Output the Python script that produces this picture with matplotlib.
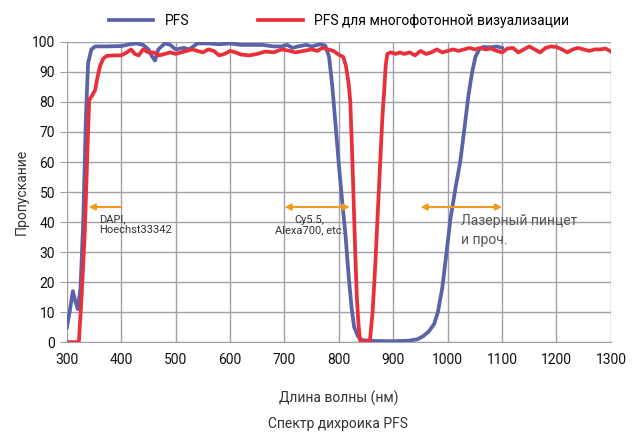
import matplotlib
matplotlib.use("Agg")
import matplotlib.pyplot as plt

BLUE = '#5a62a8'
RED = '#e8303a'
ORANGE = '#f39a1e'
GRID = '#9fa3a9'
TEXT = '#333333'

plt.rcParams['font.family'] = ['Roboto', 'DejaVu Sans']

# PFS (blue) curve
pfs_nm = [300, 305, 311, 315, 320, 325, 330, 335, 339, 345, 352, 370, 400, 415,
          428, 440, 450, 457, 462, 468, 480, 490, 500, 515, 525, 540, 560, 580,
          600, 620, 640, 660, 680, 695, 705, 715, 725, 740, 750, 765, 775, 782,
          788, 795, 800, 806, 812, 818, 823, 828, 835, 842, 860, 900, 930, 945,
          955, 965, 975, 982, 990, 998, 1005, 1015, 1023, 1030, 1038, 1045,
          1051, 1058, 1065, 1080, 1090, 1100]
pfs_val = [5, 10, 17, 14, 11, 18, 40, 75, 93, 97.5, 98.5, 98.5, 98.6, 99.2,
           99.5, 99, 97.5, 95, 93.8, 97.5, 99.5, 99, 97.5, 98, 97.5, 99.5, 99.5,
           99.2, 99.5, 99, 99, 99, 98.5, 98.5, 99, 98, 98.5, 99, 98.5, 99.2,
           98.8, 95, 85, 70, 59, 47, 36, 22, 12, 5, 2, 0.7, 0.4, 0.3, 0.5, 1,
           2, 3.5, 6, 10, 18, 30, 41, 52, 60, 70, 82, 90,
           95, 97.5, 98.3, 98.2, 98.5, 98]

# PFS for multiphoton imaging (red) curve
mp_nm = [300, 315, 322, 327, 333, 338, 341, 346, 352, 356, 361, 367, 373, 385,
         400, 410, 418, 425, 432, 440, 450, 460, 470, 480, 490, 500, 510, 520,
         530, 540, 550, 560, 570, 580, 590, 600, 610, 620, 635, 650, 665, 680,
         695, 710, 720, 735, 750, 760, 770, 780, 790, 800, 808, 813, 818, 821,
         824, 827, 830, 833, 836, 839, 850, 857, 862, 867, 872, 876, 880, 883,
         886, 889, 895, 905, 912, 920, 930, 940, 950, 960, 970, 980, 990, 1000,
         1010, 1020, 1030, 1040, 1050, 1060, 1070, 1080, 1090, 1100, 1110,
         1120, 1130, 1140, 1150, 1160, 1170, 1180, 1190, 1200, 1210, 1220,
         1230, 1240, 1250, 1260, 1270, 1280, 1290, 1300]
mp_val = [0, 0, 0, 15, 37, 65, 80.7, 82, 84, 88, 92, 94.5, 95.3, 95.5,
          95.5, 96.5, 97.5, 96, 95.5, 97.5, 96.5, 96.5, 95.5, 96, 96.5, 96, 96.5, 97,
          97.5, 97, 96.5, 97.5, 97, 95.5, 96, 97, 96.5, 95.8, 95.5, 96, 96.8, 96.5,
          97.5, 97, 96.5, 97, 97.5, 97, 98, 97.5, 97, 95.7, 95, 92, 86, 80,
          65, 48, 30, 15, 6, 0.5, 0.3, 0.5, 10, 26, 45, 60, 75, 83,
          92, 96, 96.5, 96, 96.5, 96, 96.5, 95.5, 97, 96, 96.5, 97.5, 96.5, 97,
          97.5, 97, 97.5, 98, 97.5, 98, 97.5, 97.8, 97, 96.5, 97.8,
          98, 96.5, 97.5, 98.5, 97.5, 96.5, 98, 98.5, 98.3, 97.5, 96.5,
          97.5, 98, 97.5, 97, 97.5, 97.5, 97.8, 96.8]

x_ticks = list(range(300, 1301, 100))
y_ticks = list(range(0, 101, 10))

fig = plt.figure(figsize=(6.37, 4.32), dpi=100)
ax = fig.add_axes([0.105, 0.208, 0.854, 0.695])

ax.plot(pfs_nm, pfs_val, color=BLUE, lw=2.7, solid_joinstyle='round', label='PFS', zorder=3)
ax.plot(mp_nm, mp_val, color=RED, lw=2.7, solid_joinstyle='round',
        label='PFS для многофотонной визуализации', zorder=4)

ax.set_xlim(300, 1300)
ax.set_ylim(0, 100)
ax.set_xticks(x_ticks)
ax.set_yticks(y_ticks)
ax.grid(True, color=GRID, lw=1.0)
for s in ['top', 'right', 'left']:
    ax.spines[s].set_visible(False)
ax.spines['bottom'].set_color(GRID)
ax.tick_params(axis='y', length=5, color=GRID, labelsize=10, labelcolor='#111111')
ax.tick_params(axis='x', length=0, pad=8, labelsize=10, labelcolor='#111111')
ax.set_xlabel('Длина волны (нм)', fontsize=10, color=TEXT, labelpad=17)
ax.set_ylabel('Пропускание', fontsize=10, color=TEXT, labelpad=2)

# annotation arrows
arrow = dict(arrowstyle='-|>', color=ORANGE, lw=1.5, mutation_scale=9, shrinkA=0, shrinkB=0)
arrow2 = dict(arrowstyle='<|-|>', color=ORANGE, lw=1.5, mutation_scale=9, shrinkA=0, shrinkB=0)
ax.annotate('', xy=(340, 45), xytext=(400, 45), arrowprops=arrow, zorder=5)
ax.annotate('', xy=(700, 45), xytext=(820, 45), arrowprops=arrow2, zorder=5)
ax.annotate('', xy=(950, 45), xytext=(1100, 45), arrowprops=arrow2, zorder=5)

ax.text(360, 42.5, 'DAPI,\nHoechst33342', fontsize=8, color=TEXT, va='top', ha='left',
        linespacing=1.1, zorder=6)
ax.text(746, 42.5, 'Cy5.5,\nAlexa700, etc.', fontsize=8, color=TEXT, va='top', ha='center',
        linespacing=1.1, zorder=6)
ax.text(1025, 42.8, 'Лазерный пинцет\nи проч.', fontsize=10, color='#555555', va='top',
        ha='left', linespacing=1.5, zorder=6)

ax.legend(loc='lower center', bbox_to_anchor=(0.5, 1.0), ncol=2, frameon=False,
          fontsize=10, handlelength=3.2, columnspacing=5, borderaxespad=0.6)

fig.text(0.53, 0.002, 'Спектр дихроика PFS', ha='center', va='bottom', fontsize=10, color=TEXT)

fig.savefig('out.png', dpi=100)
